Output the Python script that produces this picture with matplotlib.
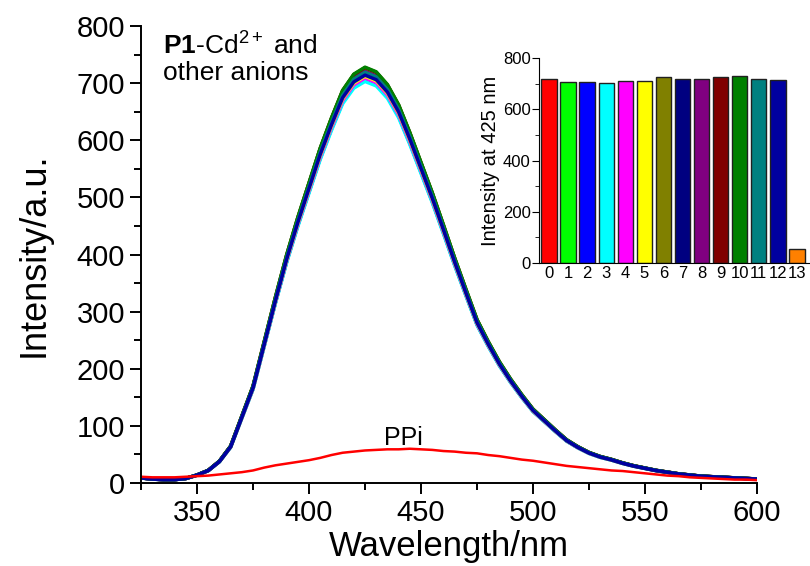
import numpy as np
import matplotlib
matplotlib.use("Agg")
import matplotlib.pyplot as plt
from matplotlib.ticker import MultipleLocator

plt.rcParams['font.family'] = ['Liberation Sans', 'DejaVu Sans']
plt.rcParams['mathtext.fontset'] = 'custom'
plt.rcParams['mathtext.rm'] = 'Liberation Sans'
plt.rcParams['mathtext.it'] = 'Liberation Sans:italic'
plt.rcParams['mathtext.bf'] = 'Liberation Sans:bold'

# Emission wavelengths (nm)
wavelength = np.arange(325, 601, 5)

# P1-Cd2+ emission profile in presence of the non-quenching anions
cd_profile = [9, 7, 6, 6, 8, 14, 22, 38, 64, 116,
              168, 245, 322, 395, 460, 520, 580, 632, 680, 708,
              720, 712, 690, 655, 607, 555, 503, 447, 390, 336,
              283, 245, 210, 180, 153, 128, 110, 92, 75, 63,
              53, 46, 41, 35, 30, 26, 22, 19, 16, 14,
              12, 11, 10, 9, 8, 7]

# Emission after adding PPi
ppi_profile = [11, 10, 10, 10, 11, 12, 13, 15, 17, 19,
               22, 27, 31, 34, 37, 40, 44, 49, 53, 55,
               57, 58, 59, 59, 60, 59, 58, 56, 55, 53,
               52, 49, 47, 44, 41, 39, 36, 33, 30, 28,
               26, 24, 22, 21, 19, 17, 15, 13, 12, 10,
               9, 8, 7, 6, 6, 5]

# Intensity at 425 nm for each anion (0-13, 13 = PPi)
anion_ids = list(range(14))
intensity_425 = [720, 706, 706, 703, 709, 712, 727, 720, 720, 727, 728, 719, 714, 55]
bar_colors = ['#FF0000', '#00FF00', '#0000FF', '#00FFFF', '#FF00FF', '#FFFF00',
              '#808000', '#000080', '#800080', '#800000', '#008000', '#008080',
              '#0000A0', '#FF8000']

fig = plt.figure(figsize=(8.1, 5.66), dpi=100)
ax = fig.add_axes([0.1741, 0.1466, 0.7605, 0.8074])

cd = np.array(cd_profile, dtype=float)
ref425 = cd[list(wavelength).index(425)]
for i in range(13):
    ax.plot(wavelength, cd * intensity_425[i] / ref425, color=bar_colors[i], lw=2.5,
            solid_joinstyle='round')
ax.plot(wavelength, ppi_profile, color='#FF0000', lw=1.8)

ax.set_xlim(325, 600)
ax.set_ylim(0, 800)
ax.xaxis.set_major_locator(MultipleLocator(50))
ax.xaxis.set_minor_locator(MultipleLocator(25))
ax.yaxis.set_major_locator(MultipleLocator(100))
ax.yaxis.set_minor_locator(MultipleLocator(50))
for side in ['top', 'right']:
    ax.spines[side].set_visible(False)
for side in ['left', 'bottom']:
    ax.spines[side].set_linewidth(1.4)
ax.tick_params(which='major', direction='out', length=8, width=1.4, labelsize=21)
ax.tick_params(which='minor', direction='out', length=5, width=1.4)
ax.set_xlabel('Wavelength/nm', fontsize=25, labelpad=2)
ax.set_ylabel('Intensity/a.u.', fontsize=26, labelpad=18)

ax.text(0.035, 0.985, r'$\mathbf{P1}$-Cd$^{2+}$ and' + '\nother anions',
        transform=ax.transAxes, fontsize=19, va='top', ha='left', linespacing=1.05)
ax.text(442, 58, 'PPi', fontsize=18, ha='center', va='bottom')

# Inset: intensity at 425 nm per anion
ins = fig.add_axes([0.6654, 0.5353, 0.3346, 0.3622])
ins.bar(anion_ids, intensity_425, width=0.8, color=bar_colors, edgecolor='#202020', linewidth=1.0)
ins.set_xlim(-0.52, 13.68)
ins.set_ylim(0, 800)
ins.set_xticks(anion_ids)
ins.yaxis.set_major_locator(MultipleLocator(200))
ins.yaxis.set_minor_locator(MultipleLocator(100))
for side in ['top', 'right']:
    ins.spines[side].set_visible(False)
ins.tick_params(axis='y', which='major', direction='out', length=5, labelsize=12, pad=1)
ins.tick_params(axis='y', which='minor', direction='out', length=3)
ins.tick_params(axis='x', direction='out', length=0, labelsize=12, pad=2)
ins.set_ylabel('Intensity at 425 nm', fontsize=14.5, labelpad=2)
ins.patch.set_alpha(0)

fig.savefig('out.png', dpi=100)
